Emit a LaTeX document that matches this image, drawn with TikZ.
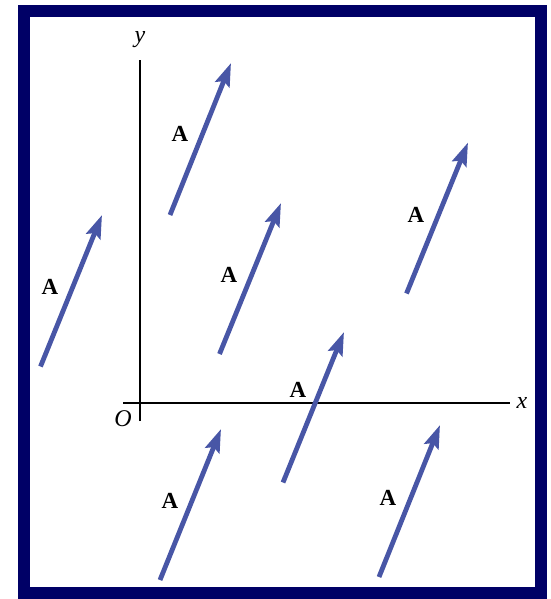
\documentclass[tikz,border=0pt]{standalone}
\usepackage{fontspec}
\setmainfont{Liberation Serif}
\usetikzlibrary{arrows.meta}
\definecolor{navy}{RGB}{0,0,102}
\definecolor{vecblue}{RGB}{72,86,166}
\begin{document}
\begin{tikzpicture}[x=1pt,y=-1pt,
  vec/.style={draw=vecblue, line width=4.8pt, -{Stealth[length=23pt,width=15pt,inset=3.5pt]}},
  axis/.style={draw=black, line width=1.8pt},
  vlabel/.style={font=\fontsize{23}{27}\selectfont\bfseries, inner sep=0pt},
  alabel/.style={font=\fontsize{24}{28}\selectfont\itshape, inner sep=0pt}]
\useasboundingbox (0,0) rectangle (550,599);
\fill[white] (0,0) rectangle (550,599);
\draw[navy, line width=12pt] (24,11) rectangle (541,593);
% axes
\coordinate (ytop) at (140,60);
\coordinate (ybot) at (140,421);
\coordinate (xl) at (123,403);
\coordinate (xr) at (510,403);
\draw[axis] (ybot) -- (ytop);
\draw[axis] (xl) -- (xr);
\node[alabel] (ylab) at (140,40) {y};
\node[alabel] (xlab) at (522,403) {x};
\node[alabel] (olab) at (123,419) {O};
% vectors
\coordinate (t1) at (170,215); \coordinate (h1) at (231,63);
\coordinate (t2) at (40.5,366.5); \coordinate (h2) at (102,215);
\coordinate (t3) at (219.5,354); \coordinate (h3) at (281,203);
\coordinate (t4) at (406.5,293.5); \coordinate (h4) at (468,142.5);
\coordinate (t5) at (283,482.5); \coordinate (h5) at (344,332);
\coordinate (t6) at (160,580); \coordinate (h6) at (221,429);
\coordinate (t7) at (379,577); \coordinate (h7) at (440,425);
\foreach \i in {1,...,7} {\draw[vec] (t\i) -- (h\i);}
\node[vlabel] (a1) at (180,134) {A};
\node[vlabel] (a2) at (50,287) {A};
\node[vlabel] (a3) at (229,275) {A};
\node[vlabel] (a4) at (416,215) {A};
\node[vlabel] (a5) at (298,390) {A};
\node[vlabel] (a6) at (170,501) {A};
\node[vlabel] (a7) at (388,498) {A};
\end{tikzpicture}
\end{document}
